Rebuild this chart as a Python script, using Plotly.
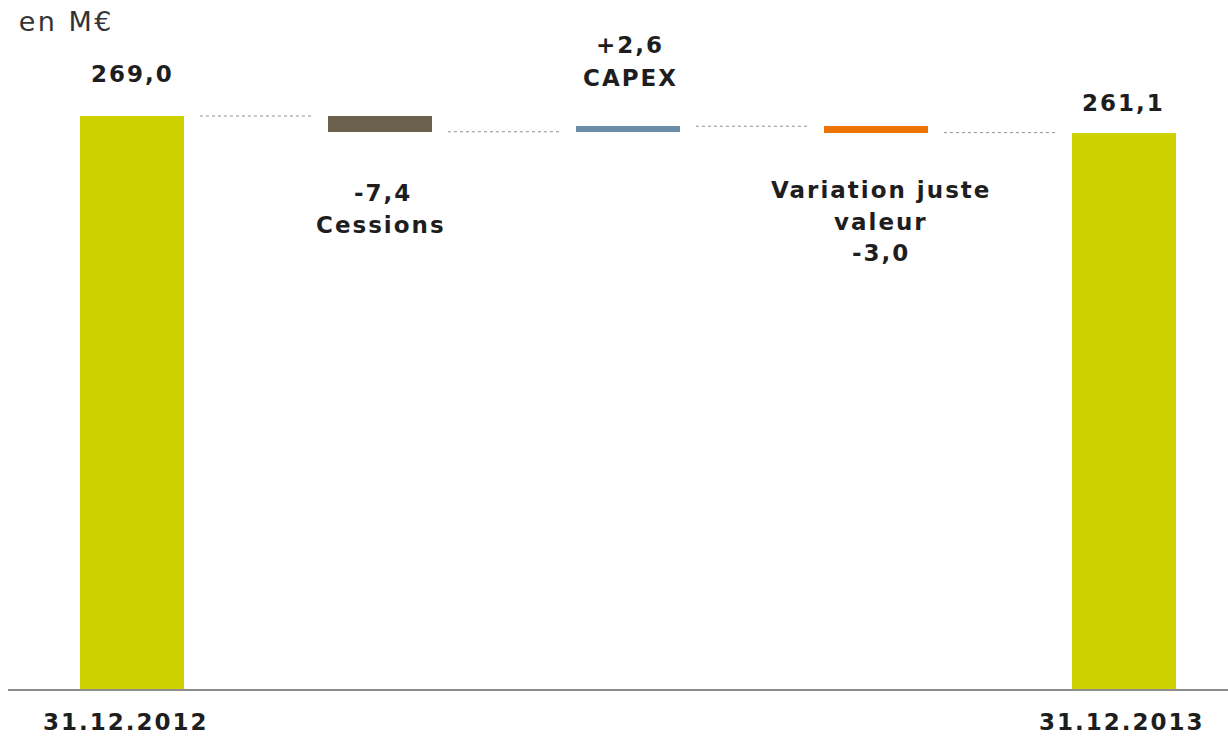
import plotly.graph_objects as go

# ---- data ----
categories = ["31.12.2012", "Cessions", "CAPEX", "Variation juste valeur", "31.12.2013"]
start_value = 269.0
deltas = [-7.4, 2.6, -3.0]
end_value = 261.1
value_labels = ["269,0", "-7,4", "+2,6", "-3,0", "261,1"]
bar_colors = ["#cdd100", "#6b614d", "#6b8da8", "#ec7404", "#cdd100"]

# ---- derived bar geometry (from data) ----
levels = [start_value]
for d in deltas:
    levels.append(levels[-1] + d)
bases = [0.0]
heights = [start_value]
for i, d in enumerate(deltas):
    bases.append(min(levels[i], levels[i + 1]))
    heights.append(abs(d))
bases.append(0.0)
heights.append(end_value)
xs = list(range(len(categories)))

PX_PER_UNIT = 573 / 269.0
PLOT_H = 689
BW = 104 / 248

fig = go.Figure()
fig.add_trace(go.Bar(
    x=xs, y=heights, base=bases, width=BW,
    marker=dict(color=bar_colors, line=dict(width=0)),
    hoverinfo="skip", showlegend=False,
))

# connectors
cx, cy = [], []
for i in range(len(levels)):
    cx += [i + 0.274, i + 0.726, None]
    cy += [levels[i], levels[i], None]
fig.add_trace(go.Scatter(
    x=cx, y=cy, mode="lines",
    line=dict(color="#8e8e8e", width=1, dash="dot"),
    hoverinfo="skip", showlegend=False,
))

BOLD = dict(family="DejaVu Sans", size=23, color="#1e1e1e", weight="bold")

def ann(text, x, y, yshift, xshift=0):
    fig.add_annotation(x=x, y=y, xref="x", yref="y", text=text, showarrow=False,
                       xanchor="center", yanchor="middle", xshift=xshift, yshift=yshift,
                       font=BOLD)

ann(value_labels[0], 0, levels[0], 42, 0)
ann(value_labels[1], 1, levels[1], -61, 3)
ann(categories[1], 1, levels[1], -93, 1)
ann(value_labels[2], 2, levels[2], 81, 2)
ann(categories[2], 2, levels[2], 48, 2)
ann("Variation juste", 3, levels[3], -57, 5)
ann("valeur", 3, levels[3], -89, 5)
ann(value_labels[3], 3, levels[3], -120, 5)
ann(value_labels[4], 4, end_value, 30, -1)
ann(categories[0], 0, 0, -33, -6)
ann(categories[4], 4, 0, -33, -2)

fig.add_annotation(xref="paper", yref="paper", x=0, y=1, xanchor="left", yanchor="middle",
                   xshift=15, yshift=-21, text="en M€", showarrow=False,
                   font=dict(family="DejaVu Sans", size=27, color="#333333"))

fig.update_layout(
    width=1228, height=738,
    margin=dict(l=8, r=0, t=0, b=738 - PLOT_H),
    plot_bgcolor="white", paper_bgcolor="white",
    bargap=0,
)
fig.update_xaxes(range=[-0.5, (1228 - 132) / 248.0], showgrid=False, zeroline=False,
                 showticklabels=False, showline=True, linecolor="#8c8c8c", linewidth=2)
fig.update_yaxes(range=[0, PLOT_H / PX_PER_UNIT], showgrid=False, zeroline=False,
                 showticklabels=False, showline=False)

# widen letter spacing of the labels to match the reference typography
spacing_js = """
document.querySelectorAll('.annotation-text').forEach(function(el){
  if (el.textContent.indexOf('en M') === 0) { el.style.letterSpacing = '2.5px'; }
  else { el.style.letterSpacing = '2px'; }
});
"""

fig.write_html("out.html", config={"displayModeBar": False}, post_script=spacing_js)
